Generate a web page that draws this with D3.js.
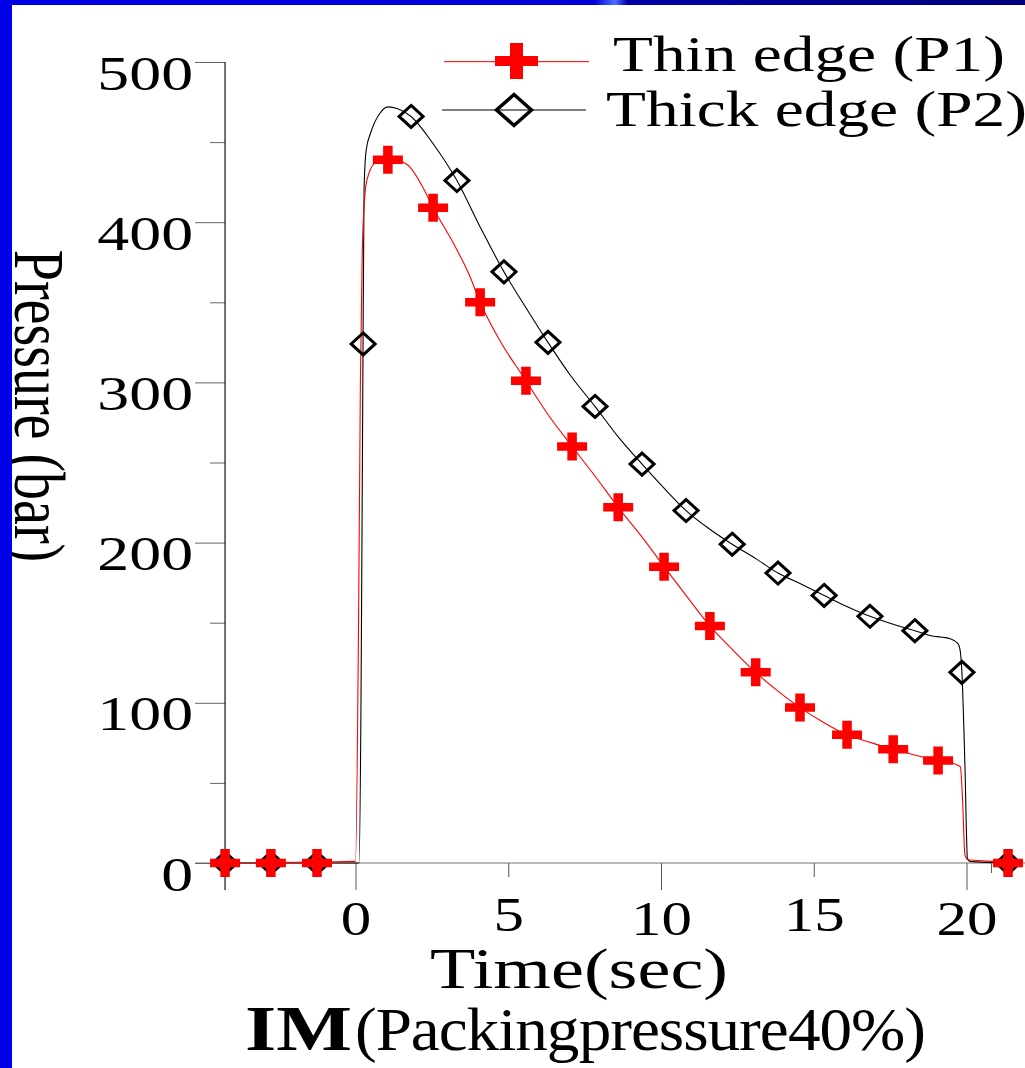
<!DOCTYPE html>
<html lang="en">
<head>
<meta charset="UTF-8" />
<title>Pressure vs time</title>
<script src="https://cdn.jsdelivr.net/npm/d3@7"></script>
<style>
  html, body { margin: 0; padding: 0; background: #fff; }
  svg { display: block; }
</style>
</head>
<body>
<svg id="svg"></svg>
<script>
  // curves (time in sec, pressure in bar)
  const thinT = [-4.27, 0, 0.1, 0.16, 0.22, 0.3, 0.37, 0.64, 1.06, 1.69, 2.2, 2.54, 3.2, 3.75, 4.08, 4.73, 5.58, 6.3, 7.09, 7.9, 8.6, 9.4, 10.1, 10.9, 11.6, 12.4, 13.1, 13.85, 14.55, 15.3, 16.09, 16.9, 17.6, 18.4, 19.07, 19.6, 19.8, 19.87, 19.95, 20.05, 20.8, 21.36];
  const thinV = [0, 1, 150, 300, 380, 415, 426, 437, 440, 436, 422, 409, 387, 366, 350, 326, 301, 280, 260, 240, 222, 203, 185, 165, 148, 132, 119, 107, 97, 88, 80, 75, 71, 67, 64, 62, 60, 40, 5, 2, 1, 0];
  const thickT = [-4.27, 0.12, 0.18, 0.24, 0.28, 0.35, 0.5, 0.8, 1.06, 1.36, 1.82, 2.54, 3.32, 4.08, 4.86, 5.6, 6.3, 7.05, 7.84, 8.6, 9.38, 10.1, 10.82, 11.55, 12.33, 13.1, 13.83, 14.6, 15.34, 16.1, 16.84, 17.6, 18.31, 18.8, 19.46, 19.72, 19.79, 19.85, 19.95, 20.03, 20.1, 21.36];
  const thickV = [0, 0, 100, 300, 420, 445, 456, 468, 472, 471, 466, 449, 426, 397, 369, 346, 325, 304, 285, 266, 249, 234, 220, 209, 199, 190, 181, 174, 167, 160, 154, 149, 145, 142, 140, 137, 133, 119, 60, 3, 1, 0];

  // marker samples
  const thinMarkT = [-4.27, -2.77, -1.26, 1.06, 2.54, 4.08, 5.58, 7.09, 8.6, 10.1, 11.6, 13.1, 14.55, 16.09, 17.6, 19.07, 21.36];
  const thinMarkV = [0, 0, 0, 439, 409, 350, 301, 260, 222, 185, 148, 119, 97, 80, 71, 64, 0];
  const thickMarkT = [-4.27, -2.77, -1.26, 0.25, 1.82, 3.32, 4.86, 6.3, 7.84, 9.38, 10.82, 12.33, 13.83, 15.34, 16.84, 18.31, 19.85, 21.36];
  const thickMarkV = [0, 0, 0, 324, 466, 426, 369, 325, 285, 249, 220, 199, 181, 167, 154, 145, 119, 0];

  const seriesNames = ["Thin edge (P1)", "Thick edge (P2)"];
  const xTicks = [0, 5, 10, 15, 20];
  const xTicksMid = [5, 15];
  const xTicksSmall = [20.8];
  const yTicks = [0, 100, 200, 300, 400, 500];
  const yTicksMinor = [50, 150, 250, 350, 450];
  const xTitle = "Time(sec)";
  const yTitle = "Pressure (bar)";
  const captionBold = "IM";
  const captionRest = "(Packing pressure 40%)";

  const width = 1025;
  const height = 1068;
  const xStart = -4.27;
  const font = "'Liberation Serif', 'Times New Roman', serif";

  const svg = d3.select("#svg").attr("width", width).attr("height", height);

  const defs = svg.append("defs");
  const grad = defs.append("linearGradient").attr("id", "band");
  [[0, "#0000e6"], [0.58, "#0000d6"], [0.6, "#4f6fff"], [0.612, "#0000a6"], [1, "#00007e"]]
    .forEach(([o, c]) => grad.append("stop").attr("offset", o).attr("stop-color", c));

  const x = d3.scaleLinear().domain([0, 20]).range([355.5, 966.5]);
  const y = d3.scaleLinear().domain([0, 500]).range([863, 62]);
  const x0 = x(xStart);

  // y title (drawn before the border so the border covers its edge)
  svg.append("text")
    .text(yTitle)
    .attr("font-family", font)
    .attr("font-size", 56)
    .attr("text-anchor", "middle")
    .attr("transform", `translate(15,406) scale(1.3,1) rotate(90)`);

  // x axis
  const xAxis = svg.append("g")
    .attr("transform", `translate(0,${y(0)})`)
    .call(d3.axisBottom(x).tickValues(xTicks).tickSize(27).tickFormat(d3.format("d")));
  xAxis.select(".domain").remove();
  xAxis.selectAll(".tick line")
    .attr("stroke", "#555")
    .attr("y2", (d) => (xTicksMid.includes(d) ? 14 : 27));
  xAxis.selectAll(".tick text")
    .attr("y", 0).attr("dy", 0)
    .attr("fill", "#000")
    .attr("font-family", font)
    .attr("font-size", 48)
    .attr("transform", (d) => `translate(0,${xTicksMid.includes(d) ? 68 : 72}) scale(1.27,1)`);

  const xSmall = svg.append("g")
    .attr("transform", `translate(0,${y(0)})`)
    .call(d3.axisBottom(x).tickValues(xTicksSmall).tickSize(10).tickFormat(""));
  xSmall.select(".domain").remove();
  xSmall.selectAll(".tick line").attr("stroke", "#555");

  svg.append("line")
    .attr("x1", x0 - 30).attr("x2", width)
    .attr("y1", y(0)).attr("y2", y(0))
    .attr("stroke", "#777").attr("stroke-width", 1.2);

  // y axis
  const yAxis = svg.append("g")
    .attr("transform", `translate(${x0},0)`)
    .call(d3.axisLeft(y).tickValues(yTicks).tickSize(30).tickFormat(d3.format("d")));
  yAxis.select(".domain").remove();
  yAxis.selectAll(".tick line").attr("stroke", "#666");
  yAxis.selectAll(".tick text")
    .attr("x", 0).attr("dy", 0)
    .attr("fill", "#000")
    .attr("font-family", font)
    .attr("font-size", 48)
    .attr("transform", "translate(-32,27) scale(1.33,1)");

  const yMinor = svg.append("g")
    .attr("transform", `translate(${x0},0)`)
    .call(d3.axisLeft(y).tickValues(yTicksMinor).tickSize(15).tickFormat(""));
  yMinor.select(".domain").remove();
  yMinor.selectAll(".tick line").attr("stroke", "#666");

  svg.append("line")
    .attr("x1", x0).attr("x2", x0)
    .attr("y1", y(500)).attr("y2", y(0) + 27)
    .attr("stroke", "#111").attr("stroke-width", 1.2);

  // curves
  const line = d3.line()
    .x((d) => x(d[0]))
    .y((d) => y(d[1]))
    .curve(d3.curveMonotoneX);

  svg.append("path")
    .datum(d3.zip(thickT, thickV))
    .attr("d", line)
    .attr("fill", "none")
    .attr("stroke", "#000")
    .attr("stroke-width", 1.1);

  svg.append("path")
    .datum(d3.zip(thinT, thinV))
    .attr("d", line)
    .attr("fill", "none")
    .attr("stroke", "#ff0000")
    .attr("stroke-width", 1.1);

  const diamond = (hw, hh) => `M0,${-hh}L${hw},0L0,${hh}L${-hw},0Z`;
  const cross = (hw, hh, tw, th) =>
    `M${-hw},${-th / 2}h${2 * hw}v${th}h${-2 * hw}Z M${-tw / 2},${-hh}h${tw}v${2 * hh}h${-tw}Z`;

  svg.append("g")
    .selectAll("path")
    .data(d3.zip(thickMarkT, thickMarkV))
    .join("path")
    .attr("d", diamond(12, 11))
    .attr("transform", (d) => `translate(${x(d[0])},${y(d[1])})`)
    .attr("fill", "none")
    .attr("stroke", "#000")
    .attr("stroke-width", 3);

  svg.append("g")
    .selectAll("path")
    .data(d3.zip(thinMarkT, thinMarkV))
    .join("path")
    .attr("d", cross(15, 14, 9.5, 8.5))
    .attr("transform", (d) => `translate(${x(d[0])},${y(d[1])})`)
    .attr("fill", "#ff0000");

  // legend
  const legend = svg.append("g");
  legend.append("rect")
    .attr("x", 444).attr("y", 61).attr("width", 145).attr("height", 1.2)
    .attr("fill", "#ff2020");
  legend.append("path")
    .attr("d", cross(21.5, 18, 13, 10))
    .attr("transform", "translate(516.5,61)")
    .attr("fill", "#ff0000");
  legend.append("text")
    .text(seriesNames[0])
    .attr("font-family", font)
    .attr("font-size", 50)
    .attr("transform", "translate(613,71) scale(1.307,1)");

  legend.append("line")
    .attr("x1", 442).attr("x2", 586).attr("y1", 110).attr("y2", 110)
    .attr("stroke", "#000").attr("stroke-width", 1.1);
  legend.append("path")
    .attr("d", diamond(17.5, 15.5))
    .attr("transform", "translate(514,110)")
    .attr("fill", "none")
    .attr("stroke", "#000")
    .attr("stroke-width", 3.5);
  legend.append("text")
    .text(seriesNames[1])
    .attr("font-family", font)
    .attr("font-size", 50)
    .attr("transform", "translate(606,126) scale(1.307,1)");

  // titles
  svg.append("text")
    .text(xTitle)
    .attr("x", 430).attr("y", 988)
    .attr("font-family", font)
    .attr("font-size", 56)
    .attr("textLength", 298)
    .attr("lengthAdjust", "spacingAndGlyphs");

  svg.append("text")
    .text(captionBold)
    .attr("x", 245).attr("y", 1050)
    .attr("font-family", font)
    .attr("font-weight", "bold")
    .attr("font-size", 63)
    .attr("textLength", 107)
    .attr("lengthAdjust", "spacingAndGlyphs");

  svg.append("text")
    .text(captionRest)
    .attr("x", 355).attr("y", 1050)
    .attr("font-family", font)
    .attr("font-size", 62)
    .attr("word-spacing", -14)
    .attr("letter-spacing", -1)
    .attr("textLength", 570)
    .attr("lengthAdjust", "spacingAndGlyphs");

  // slide frame
  svg.append("rect").attr("x", 0).attr("y", 0).attr("width", width).attr("height", 5).attr("fill", "url(#band)");
  svg.append("rect").attr("x", 0).attr("y", 0).attr("width", 12).attr("height", height).attr("fill", "#0000e6");
</script>
</body>
</html>
